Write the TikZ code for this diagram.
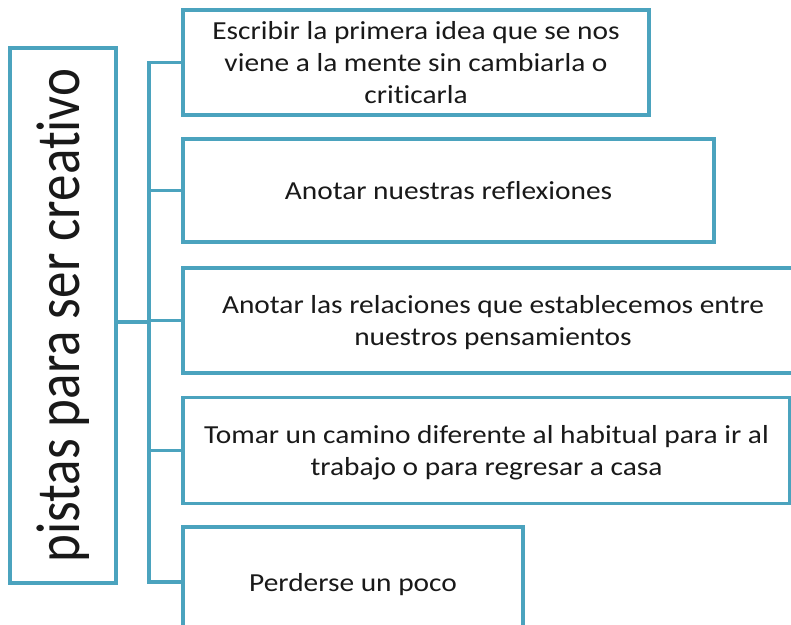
\documentclass[tikz,border=0pt]{standalone}
\usepackage{fontspec}
\setmainfont{Carlito}[Ligatures=NoCommon]
\definecolor{azul}{RGB}{75,163,190}
\definecolor{texto}{RGB}{25,25,25}
\newcommand\lineas[1]{\raisebox{0pt}[\dimexpr\height+6pt][\depth]{%
    \scalebox{1.13}[1]{\begin{tabular}{@{}c@{}}#1\end{tabular}}}}

\begin{document}
\begin{tikzpicture}[x=1pt, y=-1pt,
    caja/.style={draw=azul, line width=3.5pt, fill=white, text=texto, align=center,
        inner sep=0pt, font=\fontsize{26}{32}\selectfont},
    rama/.style={draw=azul, line width=3.5pt}]
    \useasboundingbox (0,0) rectangle (791,624);
    \clip (0,0) rectangle (791,624);

    \node[caja, minimum width=106pt, minimum height=535pt] (main) at (63,315.5)
        {\rotatebox{90}{\scalebox{1}[1.17]{\fontsize{53}{53}\selectfont pistas para ser creativo}}};

    \node[caja, minimum width=466pt, minimum height=105pt] (b1) at (416,62.5)
        {\lineas{Escribir la primera idea que se nos\\viene a la mente sin cambiarla o\\criticarla}};
    \node[caja, minimum width=531pt, minimum height=103pt] (b2) at (448.5,190.5)
        {\lineas{Anotar nuestras reflexiones}};
    \node[caja, minimum width=620pt, minimum height=105pt] (b3) at (493,320.5)
        {\lineas{Anotar las relaciones que establecemos entre\\nuestros pensamientos}};
    \node[caja, minimum width=607pt, minimum height=106pt] (b4) at (486.5,450.5)
        {\lineas{Tomar un camino diferente al habitual para ir al\\trabajo o para regresar a casa}};
    \node[caja, minimum width=340pt, minimum height=110pt] (b5) at (353,582)
        {\lineas{Perderse un poco}};

    \coordinate (tronco) at (149,322);
    \draw[rama] (b1.west) -| (tronco |- b5.west) -- (b5.west);
    \draw[rama] (main.east |- tronco) -- (tronco);
    \foreach \b in {b2,b3,b4}
        \draw[rama] (tronco |- \b.west) -- (\b.west);
\end{tikzpicture}
\end{document}
